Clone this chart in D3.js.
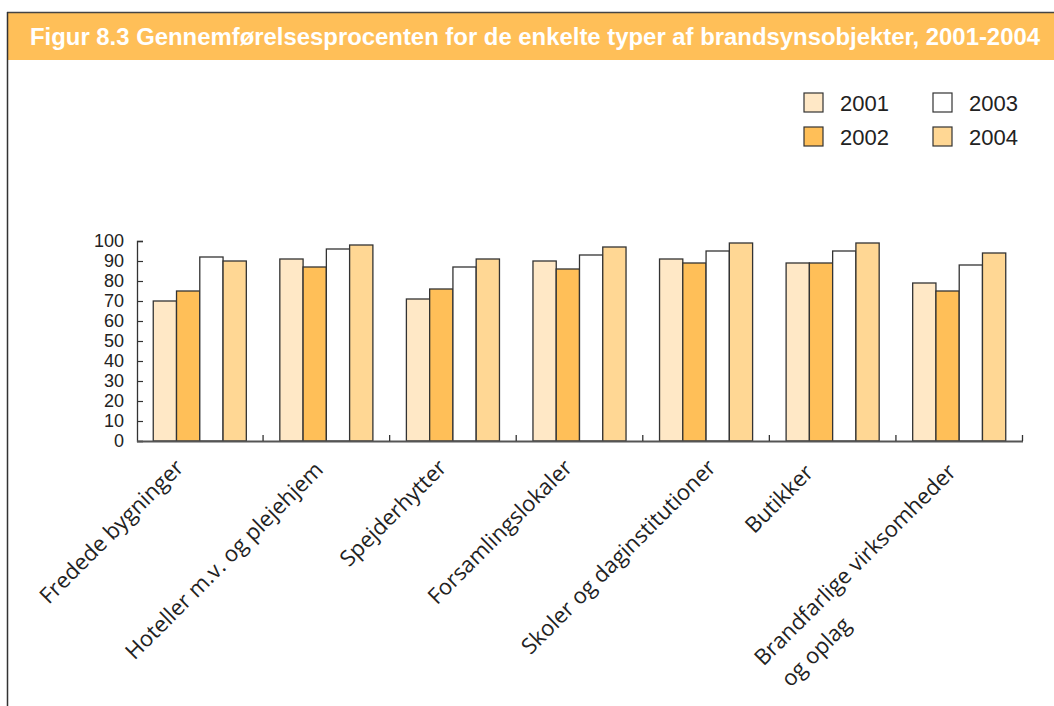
<!DOCTYPE html>
<html><head><meta charset="utf-8">
<script src="https://cdn.jsdelivr.net/npm/d3@7"></script>
<style>body{margin:0;background:#fff}svg{display:block}</style>
</head><body>
<svg id="c" width="1054" height="706"></svg>
<script>
const title = "Figur 8.3 Gennemførelsesprocenten for de enkelte typer af brandsynsobjekter, 2001-2004";
const categories = [
  ["Fredede bygninger"],
  ["Hoteller m.v. og plejehjem"],
  ["Spejderhytter"],
  ["Forsamlingslokaler"],
  ["Skoler og daginstitutioner"],
  ["Butikker"],
  ["Brandfarlige virksomheder", "og oplag"]
];
const years = ["2001", "2002", "2003", "2004"];
const v2001 = [70, 91, 71, 90, 91, 89, 79];
const v2002 = [75, 87, 76, 86, 89, 89, 75];
const v2003 = [92, 96, 87, 93, 95, 95, 88];
const v2004 = [90, 98, 91, 97, 99, 99, 94];
const yTicks = [0, 10, 20, 30, 40, 50, 60, 70, 80, 90, 100];
const colors = ["#FFE8C6", "#FFBF58", "#FFFFFF", "#FFD794"];

const series = [v2001, v2002, v2003, v2004];
const svg = d3.select("#c");

// frame + title bar
svg.append("rect").attr("x", 7).attr("y", 12).attr("width", 1047).attr("height", 48).attr("fill", "#FFBF58");
svg.append("line").attr("x1", 7).attr("x2", 1054).attr("y1", 12.5).attr("y2", 12.5).attr("stroke", "#444").attr("stroke-width", 1.5);
svg.append("line").attr("x1", 7.5).attr("x2", 7.5).attr("y1", 12).attr("y2", 706).attr("stroke", "#333").attr("stroke-width", 1.5);
svg.append("text").attr("x", 30).attr("y", 45).text(title)
  .attr("fill", "#fff").attr("font-family", "'Liberation Sans Narrow','Liberation Sans',sans-serif")
  .attr("font-weight", "bold").attr("font-size", 23)
  .attr("textLength", 1010).attr("lengthAdjust", "spacingAndGlyphs");

const x0 = d3.scaleBand().domain(d3.range(categories.length)).range([136.5, 1022.5]).paddingInner(0).paddingOuter(0);
const x1 = d3.scaleBand().domain(years).range([0, x0.bandwidth()]).paddingInner(0).paddingOuter(0.72);
const y = d3.scaleLinear().domain([0, 100]).range([441, 241]);

// bars
const g = svg.append("g");
categories.forEach((c, i) => {
  years.forEach((yr, j) => {
    const v = series[j][i];
    g.append("rect")
      .attr("x", x0(i) + x1(yr))
      .attr("y", y(v))
      .attr("width", x1.bandwidth())
      .attr("height", y(0) - y(v))
      .attr("fill", colors[j])
      .attr("stroke", "#333").attr("stroke-width", 1.3);
  });
});

// y axis
const yAxis = d3.axisRight(y).tickValues(yTicks).tickSize(6).tickFormat("");
const ya = svg.append("g").attr("transform", "translate(137,0)").call(yAxis);
ya.select(".domain").attr("stroke", "#333").attr("stroke-width", 1.3);
ya.selectAll(".tick line").attr("stroke", "#333").attr("stroke-width", 1.2);
svg.append("g").selectAll("text").data(yTicks).join("text")
  .attr("x", 124).attr("y", d => y(d)).attr("dy", "0.36em")
  .attr("text-anchor", "end").attr("font-family", "'Liberation Sans',Arial,sans-serif")
  .attr("font-size", 18).attr("fill", "#222").text(d => d);

// x axis
const xAxis = d3.axisTop(x0).tickSize(0).tickFormat("");
const xa = svg.append("g").attr("transform", "translate(0,441)").call(xAxis);
xa.select(".domain").attr("stroke", "#555").attr("stroke-width", 2);
const bounds = d3.range(1, categories.length + 1).map(i => i < categories.length ? x0(i) : x0(i - 1) + x0.bandwidth());
svg.append("g").selectAll("line").data(bounds).join("line")
  .attr("x1", d => d).attr("x2", d => d).attr("y1", 435).attr("y2", 441)
  .attr("stroke", "#333").attr("stroke-width", 1.3);

// category labels (layout nudges relative to band centre)
const nudgeX = [-15, -2, -5, -6, 11, -18, -9];
const nudgeY = [469, 471, 469, 469, 469, 474, 466];
categories.forEach((lines, i) => {
  const cx = x0(i) + x0.bandwidth() / 2;
  const lg = svg.append("g").attr("transform", `translate(${cx + nudgeX[i]},${nudgeY[i]}) rotate(-45)`);
  const t = lg.append("text").attr("font-family", "'Open Sans',sans-serif").attr("font-size", 22).attr("fill", "#222");
  if (lines.length === 1) {
    t.attr("text-anchor", "end").text(lines[0]);
  } else {
    const first = t.append("tspan").attr("x", 0).attr("dy", 10).attr("text-anchor", "end").text(lines[0]);
    const w = first.node().getComputedTextLength();
    t.append("tspan").attr("x", -w + 4).attr("dy", 34).attr("text-anchor", "start").text(lines[1]);
  }
});

// legend
const legPos = [[804, 93], [804, 127], [933, 93], [933, 127]];
years.forEach((yr, j) => {
  const [lx, ly] = legPos[j];
  svg.append("rect").attr("x", lx).attr("y", ly).attr("width", 19).attr("height", 19)
    .attr("fill", colors[j]).attr("stroke", "#333").attr("stroke-width", 1.2);
  svg.append("text").attr("x", lx + 36).attr("y", ly + 18).text(yr)
    .attr("font-family", "'Liberation Sans',Arial,sans-serif").attr("font-size", 22).attr("fill", "#222");
});
</script>
</body></html>
